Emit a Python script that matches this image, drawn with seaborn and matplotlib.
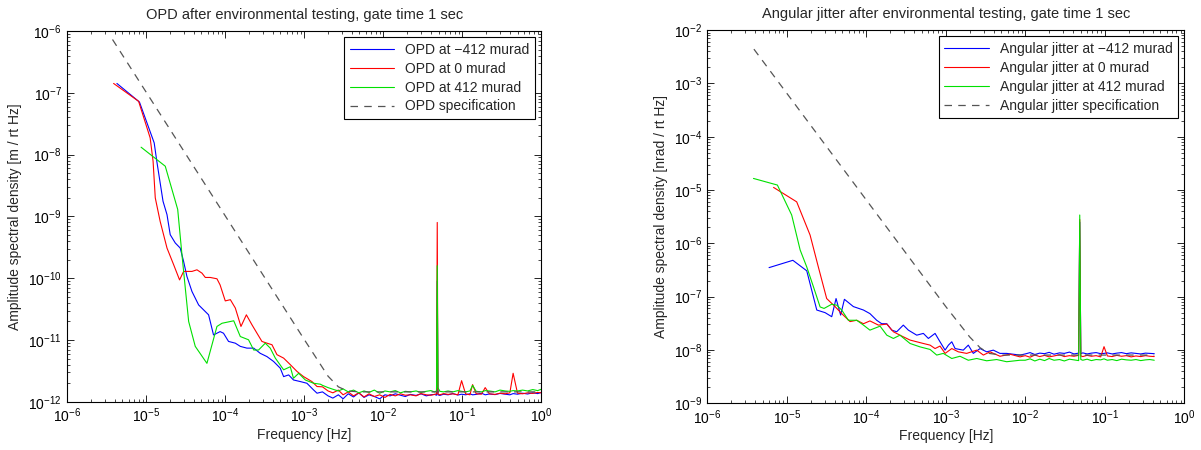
import numpy as np
import seaborn as sns
import matplotlib.pyplot as plt
from matplotlib.ticker import LogLocator, NullFormatter

# ---- OPD panel (left) ----
# low frequency part, [Hz] and [m / rt Hz]
opd_neg_f = [4.25e-6, 8.2e-6, 1.26e-5, 1.36e-5, 1.63e-5, 1.83e-5, 2.01e-5, 2.33e-5, 2.69e-5,
             2.97e-5, 3.27e-5, 3.79e-5, 4.6e-5, 6.15e-5, 7.1e-5, 8.6e-5, 9.5e-5, 1.10e-4,
             1.34e-4, 1.55e-4, 1.88e-4, 2.29e-4, 2.77e-4, 3.37e-4, 4.09e-4, 4.97e-4, 5.48e-4,
             6.34e-4, 7.3e-4, 8.9e-4, 1.08e-3, 1.31e-3, 1.45e-3]
opd_neg_v = [1.42e-7, 7.1e-8, 1.55e-8, 7.8e-9, 1.76e-9, 1.07e-9, 5.07e-10, 3.72e-10, 3.08e-10,
             1.87e-10, 1.07e-10, 6.1e-11, 3.7e-11, 2.56e-11, 1.21e-11, 1.37e-11, 1.29e-11, 9.5e-12,
             8.9e-12, 7.9e-12, 7.4e-12, 7.4e-12, 6.1e-12, 5.4e-12, 4.5e-12, 3.5e-12, 2.56e-12,
             2.73e-12, 2.26e-12, 2.13e-12, 2.0e-12, 1.56e-12, 1.38e-12]

opd_zero_f = [3.86e-6, 8.0e-6, 1.12e-5, 1.22e-5, 1.30e-5, 1.50e-5, 1.83e-5, 2.22e-5, 2.64e-5,
              2.97e-5, 3.79e-5, 4.38e-5, 5.07e-5, 5.59e-5, 6.46e-5, 7.85e-5, 8.6e-5, 1.0e-4,
              1.16e-4, 1.34e-4, 1.58e-4, 1.85e-4, 2.18e-4, 2.52e-4, 2.91e-4, 3.37e-4, 3.90e-4,
              4.51e-4, 5.48e-4, 6.65e-4, 8.1e-4, 9.8e-4, 1.25e-3, 1.45e-3]
opd_zero_v = [1.42e-7, 7.3e-8, 1.87e-8, 7.8e-9, 2.0e-9, 8.3e-10, 3.08e-10, 1.66e-10, 9.4e-11,
              1.29e-10, 1.29e-10, 1.37e-10, 1.21e-10, 1.03e-10, 1.03e-10, 9.8e-11, 7.8e-11, 4.3e-11,
              4.5e-11, 3.3e-11, 1.66e-11, 2.56e-11, 1.76e-11, 1.29e-11, 9.5e-12, 8.9e-12, 8.4e-12,
              5.8e-12, 5.1e-12, 4.0e-12, 3.1e-12, 2.56e-12, 2.13e-12, 1.77e-12]

opd_pos_f = [8.6e-6, 1.74e-5, 2.5e-5, 2.83e-5, 3.12e-5, 3.44e-5, 4.17e-5, 5.86e-5, 7.85e-5,
             9.1e-5, 1.28e-4, 1.55e-4, 1.97e-4, 2.29e-4, 2.64e-4, 3.21e-4, 3.71e-4, 4.30e-4,
             5.48e-4, 6.65e-4, 7.3e-4, 8.5e-4, 1.03e-3, 1.31e-3, 1.60e-3]
opd_pos_v = [1.32e-8, 6.5e-9, 1.3e-9, 2.4e-10, 6.9e-11, 2.0e-11, 7.9e-12, 4.2e-12, 1.66e-11,
             1.87e-11, 2.05e-11, 1.14e-11, 1.01e-11, 6.9e-12, 6.9e-12, 8.9e-12, 7.4e-12, 5.1e-12,
             3.3e-12, 3.7e-12, 2.41e-12, 2.9e-12, 2.26e-12, 2.0e-12, 1.93e-12]

# noise floor part, values in units of 1e-12 m / rt Hz
opd_floor_f = [1.7e-3, 2.0e-3, 2.3e-3, 2.7e-3, 3.1e-3, 3.6e-3, 4.2e-3, 4.9e-3, 5.7e-3, 6.6e-3,
               7.7e-3, 9.0e-3, 0.0105, 0.0122, 0.0142, 0.0165, 0.019, 0.022, 0.026, 0.030,
               0.035, 0.040, 0.0445, 0.0472, 0.0482, 0.0492, 0.052, 0.058, 0.066, 0.076,
               0.088, 0.098, 0.11, 0.125, 0.135, 0.15, 0.175, 0.195, 0.22, 0.26,
               0.30, 0.35, 0.40, 0.44, 0.50, 0.58, 0.67, 0.78, 0.9, 1.0]
opd_floor_neg = [1.45, 1.25, 1.15, 1.3, 1.12, 1.35, 1.2, 1.4, 1.18, 1.3,
                 1.22, 1.12, 1.3, 1.25, 1.35, 1.28, 1.22, 1.32, 1.27, 1.35,
                 1.25, 1.3, 1.32, 1.28, 90, 1.3, 1.27, 1.33, 1.3, 1.36,
                 1.29, 1.33, 1.3, 1.35, 1.3, 1.32, 1.38, 1.3, 1.34, 1.31,
                 1.37, 1.33, 1.3, 1.36, 1.33, 1.38, 1.34, 1.4, 1.36, 1.42]
opd_floor_zero = [1.75, 1.5, 1.4, 1.55, 1.3, 1.45, 1.25, 1.4, 1.2, 1.35,
                  1.22, 1.3, 1.18, 1.32, 1.25, 1.35, 1.28, 1.3, 1.25, 1.36,
                  1.3, 1.28, 1.32, 1.35, 800, 1.33, 1.3, 1.36, 1.32, 1.35,
                  1.3, 2.2, 1.35, 1.3, 1.9, 1.35, 1.33, 1.7, 1.35, 1.32,
                  1.38, 1.35, 1.4, 2.9, 1.38, 1.35, 1.4, 1.37, 1.42, 1.4]
opd_floor_pos = [1.85, 1.7, 1.6, 1.5, 1.62, 1.45, 1.55, 1.4, 1.5, 1.42,
                 1.55, 1.38, 1.5, 1.45, 1.52, 1.4, 1.48, 1.45, 1.5, 1.42,
                 1.48, 1.52, 1.45, 1.5, 160, 1.7, 1.48, 1.45, 1.5, 1.45,
                 1.52, 1.48, 1.45, 1.5, 1.85, 1.48, 1.45, 1.52, 1.5, 1.45,
                 1.55, 1.5, 1.48, 1.52, 1.5, 1.55, 1.5, 1.58, 1.52, 1.6]

opd_spec_f = [3.74e-6, 1e-4, 1e-3, 2e-3, 2.7e-3, 3.5e-3, 5e-3, 1.0]
opd_spec_v = [7.3e-7, 1.02e-9, 1.02e-11, 2.6e-12, 1.75e-12, 1.5e-12, 1.45e-12, 1.45e-12]

# ---- Angular jitter panel (right) ----
# low frequency part, [Hz] and [nrad / rt Hz]
jit_neg_f = [5.97e-6, 1.19e-5, 1.78e-5, 2.38e-5, 3.03e-5, 3.67e-5, 4.16e-5, 4.75e-5, 5.3e-5,
             6.87e-5, 9.2e-5, 1.11e-4, 1.35e-4, 1.56e-4, 1.81e-4, 2.09e-4, 2.41e-4, 2.92e-4,
             3.38e-4, 4.31e-4, 5.22e-4, 6.04e-4, 7.33e-4, 8.46e-4, 9.8e-4, 1.08e-3, 1.19e-3,
             1.31e-3, 1.66e-3, 1.92e-3, 2.22e-3, 2.70e-3, 3.27e-3, 3.96e-3, 4.81e-3, 5.83e-3,
             8.6e-3]
jit_neg_v = [3.5e-7, 4.8e-7, 3.05e-7, 5.6e-8, 5.0e-8, 4.2e-8, 9.2e-8, 4.5e-8, 8.9e-8,
             6.5e-8, 5.6e-8, 4.8e-8, 3.6e-8, 3.1e-8, 3.1e-8, 2.35e-8, 2.19e-8, 2.92e-8,
             2.35e-8, 1.89e-8, 2.04e-8, 1.64e-8, 2.04e-8, 1.42e-8, 9.9e-9, 1.23e-8, 1.42e-8,
             1.06e-8, 9.9e-9, 1.23e-8, 8.6e-9, 1.06e-8, 9.2e-9, 9.9e-9, 8.6e-9, 8.6e-9,
             8.0e-9]

jit_zero_f = [6.8e-6, 1.33e-5, 1.96e-5, 2.49e-5, 3.17e-5, 4.04e-5, 4.90e-5, 6.24e-5, 7.57e-5,
              9.2e-5, 1.11e-4, 1.42e-4, 1.81e-4, 2.19e-4, 2.79e-4, 3.55e-4, 4.31e-4, 5.22e-4,
              6.34e-4, 7.33e-4, 8.46e-4, 9.8e-4, 1.19e-3, 1.44e-3, 1.83e-3, 2.45e-3, 2.97e-3,
              3.6e-3, 4.81e-3, 6.43e-3, 8.6e-3]
jit_zero_v = [1.12e-5, 6.0e-6, 1.43e-6, 3.6e-7, 9.2e-8, 6.5e-8, 4.8e-8, 3.4e-8, 3.6e-8,
              3.1e-8, 3.5e-8, 2.92e-8, 3.05e-8, 2.19e-8, 1.82e-8, 1.53e-8, 1.42e-8, 1.32e-8,
              1.23e-8, 1.06e-8, 1.18e-8, 8.6e-9, 1.06e-8, 9.2e-9, 8.6e-9, 9.9e-9, 8.0e-9,
              9.2e-9, 7.6e-9, 8.3e-9, 7.4e-9]

jit_pos_f = [3.8e-6, 7.6e-6, 1.15e-5, 1.47e-5, 1.78e-5, 2.16e-5, 2.62e-5, 2.94e-5, 3.67e-5,
             4.25e-5, 4.9e-5, 5.95e-5, 7.57e-5, 9.2e-5, 1.11e-4, 1.49e-4, 1.81e-4, 2.19e-4,
             2.65e-4, 3.55e-4, 4.74e-4, 6.34e-4, 7.69e-4, 9.3e-4, 1.19e-3, 1.51e-3, 1.92e-3,
             2.45e-3, 3.27e-3, 4.37e-3, 5.83e-3, 8.6e-3]
jit_pos_v = [1.65e-5, 1.24e-5, 3.4e-6, 7.5e-7, 3.6e-7, 1.53e-7, 6.4e-8, 6.0e-8, 7.2e-8,
             6.9e-8, 5.6e-8, 3.6e-8, 3.6e-8, 2.92e-8, 2.35e-8, 2.79e-8, 1.89e-8, 1.64e-8,
             1.89e-8, 1.32e-8, 1.14e-8, 1.02e-8, 8.0e-9, 8.6e-9, 6.9e-9, 7.6e-9, 6.4e-9,
             6.9e-9, 6.25e-9, 6.6e-9, 6.0e-9, 6.4e-9]

# noise floor part, values in units of 1e-9 nrad / rt Hz
jit_floor_f = [0.0100, 0.0115, 0.0132, 0.0152, 0.0175, 0.020, 0.023, 0.027, 0.031, 0.036,
               0.041, 0.0470, 0.0485, 0.0500, 0.053, 0.060, 0.068, 0.078, 0.089, 0.098,
               0.108, 0.124, 0.142, 0.163, 0.187, 0.215, 0.247, 0.284, 0.326, 0.37,
               0.42]
jit_floor_neg = [8.4, 8.9, 8.2, 8.7, 8.5, 9.0, 8.3, 8.8, 8.6, 9.1,
                 8.4, 8.7, 2500, 8.5, 8.8, 8.4, 8.7, 8.9, 8.5, 8.6,
                 8.8, 8.4, 8.7, 8.9, 8.5, 8.8, 8.6, 8.4, 8.7, 8.6,
                 8.5]
jit_floor_zero = [7.8, 7.3, 8.0, 7.5, 7.9, 7.4, 7.7, 8.1, 7.5, 7.8,
                  7.6, 7.9, 2800, 7.7, 7.5, 7.9, 7.6, 7.8, 7.4, 11.5,
                  7.7, 7.5, 7.9, 7.6, 7.8, 7.4, 7.7, 7.5, 7.8, 7.6,
                  7.5]
jit_floor_pos = [6.4, 6.8, 6.2, 6.7, 6.3, 6.9, 6.4, 6.6, 6.2, 6.7,
                 6.5, 6.3, 3400, 6.6, 6.4, 6.7, 6.3, 6.6, 6.5, 6.8,
                 6.4, 6.6, 6.3, 6.7, 6.5, 6.4, 6.6, 6.3, 6.5, 6.6,
                 6.4]

jit_spec_f = [3.85e-6, 1e-4, 1e-3, 2e-3, 2.7e-3, 3.5e-3, 5e-3, 0.42]
jit_spec_v = [4.4e-3, 6.5e-6, 6.5e-8, 1.75e-8, 1.1e-8, 8.6e-9, 8.0e-9, 8.0e-9]


sns.set_style("ticks", {"xtick.direction": "in", "ytick.direction": "in"})
plt.rcParams["font.family"] = ["Liberation Sans", "DejaVu Sans"]
plt.rcParams["mathtext.fontset"] = "custom"
plt.rcParams["mathtext.rm"] = "Liberation Sans"
plt.rcParams["mathtext.default"] = "regular"
plt.rcParams["font.size"] = 10

colors = ["#0000ff", "#ff0000", "#00e000"]


def join(f_low, v_low, f_floor, v_floor, unit):
    f = np.concatenate([f_low, f_floor])
    v = np.concatenate([v_low, np.asarray(v_floor) * unit])
    return f, v


def draw_panel(ax, series, spec, labels, ylim, ylabel, title):
    for (f, v), color, label in zip(series, colors, labels[:3]):
        sns.lineplot(x=f, y=v, color=color, lw=0.8, label=label, ax=ax,
                     estimator=None, sort=False)
    sns.lineplot(x=spec[0], y=spec[1], color="#555555", lw=0.9, ls=(0, (6, 5)),
                 label=labels[3], ax=ax, estimator=None, sort=False)

    ax.set_xscale("log")
    ax.set_yscale("log")
    ax.set_xlim(1e-6, 1)
    ax.set_ylim(*ylim)
    # decade ticks only inside the axes range
    ax.set_xticks(10.0 ** np.arange(-6, 1))
    ax.set_yticks(10.0 ** np.arange(np.log10(ylim[0]), np.log10(ylim[1]) + 1))
    for axis in (ax.xaxis, ax.yaxis):
        axis.set_minor_locator(LogLocator(base=10, subs=np.arange(2, 10), numticks=20))
        axis.set_minor_formatter(NullFormatter())
    ax.set_xlim(1e-6, 1)
    ax.set_ylim(*ylim)
    ax.tick_params(which="both", top=True, right=True, direction="in", colors="black",
                   labelsize=10)
    ax.tick_params(which="major", length=5, width=0.6)
    ax.tick_params(which="minor", length=2.5, width=0.5)
    ax.tick_params(axis="y", which="major", pad=4)
    for s in ax.spines.values():
        s.set_color("black")
        s.set_linewidth(0.8)

    ax.set_xlabel("Frequency [Hz]", labelpad=2)
    ax.set_ylabel(ylabel)
    ax.set_title(title, fontsize=10.5, pad=9)
    leg = ax.legend(loc="upper right", fancybox=False, edgecolor="black", framealpha=1,
                    borderaxespad=0.45, handlelength=3.2, labelspacing=0.35, fontsize=10)
    leg.get_frame().set_linewidth(0.8)


fig = plt.figure(figsize=(12.01, 4.5), dpi=100)
ax1 = fig.add_axes([0.056, 0.107, 0.3947, 0.824])
ax2 = fig.add_axes([0.589, 0.104, 0.397, 0.829])

opd_series = [join(opd_neg_f, opd_neg_v, opd_floor_f, opd_floor_neg, 1e-12),
              join(opd_zero_f, opd_zero_v, opd_floor_f, opd_floor_zero, 1e-12),
              join(opd_pos_f, opd_pos_v, opd_floor_f, opd_floor_pos, 1e-12)]
draw_panel(ax1, opd_series, (opd_spec_f, opd_spec_v),
           ["OPD at \u2212412 murad", "OPD at 0 murad", "OPD at 412 murad", "OPD specification"],
           (1e-12, 1e-6), "Amplitude spectral density [m / rt Hz]",
           "OPD after environmental testing, gate time 1 sec")

jit_series = [join(jit_neg_f, jit_neg_v, jit_floor_f, jit_floor_neg, 1e-9),
              join(jit_zero_f, jit_zero_v, jit_floor_f, jit_floor_zero, 1e-9),
              join(jit_pos_f, jit_pos_v, jit_floor_f, jit_floor_pos, 1e-9)]
draw_panel(ax2, jit_series, (jit_spec_f, jit_spec_v),
           ["Angular jitter at \u2212412 murad", "Angular jitter at 0 murad",
            "Angular jitter at 412 murad", "Angular jitter specification"],
           (1e-9, 1e-2), "Amplitude spectral density [nrad / rt Hz]",
           "Angular jitter after environmental testing, gate time 1 sec")

fig.savefig("out.png", dpi=100)
